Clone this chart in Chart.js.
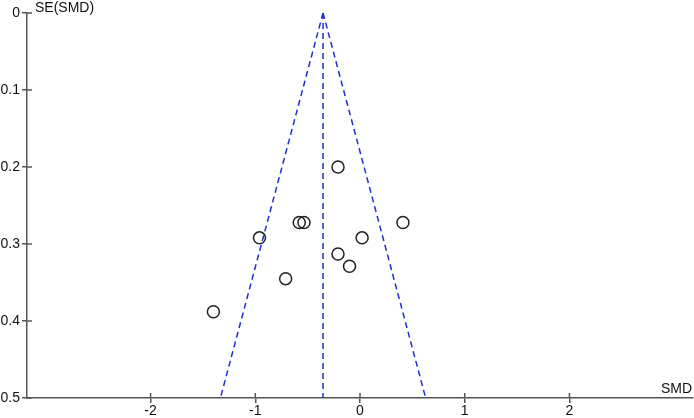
<!DOCTYPE html>
<html>
<head>
<meta charset="utf-8">
<script src="https://cdn.jsdelivr.net/npm/chart.js@4/dist/chart.umd.min.js"></script>
<style>
  body { margin: 0; background: #fff; }
  #wrap { width: 694px; height: 418px; }
</style>
</head>
<body>
<div id="wrap"><canvas id="funnel"></canvas></div>
<script>
// study effect sizes and their standard errors
const smd = [-0.21, -0.58, -0.535, 0.41, -0.96, 0.02, -0.21, -0.10, -0.71, -1.40];
const se = [0.20, 0.272, 0.272, 0.272, 0.292, 0.292, 0.313, 0.329, 0.345, 0.388];
const pooledSMD = -0.353;
const funnelSE = [0, 0.5];
const xTicks = [-2, -1, 0, 1, 2];
const yTicks = [0, 0.1, 0.2, 0.3, 0.4, 0.5];

const axisColor = '#555';
const lineBlue = '#1f2fd0';
const fontFamily = '"Liberation Sans", Arial, sans-serif';

const points = smd.map((v, i) => ({ x: v, y: se[i] }));
const leftLine = funnelSE.map(s => ({ x: pooledSMD - 1.96 * s, y: s }));
const rightLine = funnelSE.map(s => ({ x: pooledSMD + 1.96 * s, y: s }));
const midLine = funnelSE.map(s => ({ x: pooledSMD, y: s }));

function dashed(data) {
  return {
    type: 'line', data: data, borderColor: lineBlue, borderWidth: 1.5,
    borderDash: [6, 4], pointRadius: 0, fill: false
  };
}

// ticks crossing the axis line, and the two axis titles
const extras = {
  id: 'extras',
  afterDraw(chart) {
    const ctx = chart.ctx;
    const xs = chart.scales.x, ys = chart.scales.y;
    const area = chart.chartArea;
    ctx.save();
    ctx.strokeStyle = axisColor;
    ctx.lineWidth = 1.5;
    ctx.beginPath();
    xTicks.forEach(t => {
      const px = xs.getPixelForValue(t);
      ctx.moveTo(px, area.bottom);
      ctx.lineTo(px, area.bottom - 5);
    });
    yTicks.forEach(t => {
      const py = ys.getPixelForValue(t);
      ctx.moveTo(area.left, py);
      ctx.lineTo(area.left + 5, py);
    });
    ctx.stroke();
    ctx.fillStyle = '#111';
    ctx.font = '14px ' + fontFamily;
    ctx.textBaseline = 'middle';
    ctx.textAlign = 'left';
    ctx.fillText('SE(SMD)', area.left + 8, area.top - 5);
    ctx.textAlign = 'right';
    ctx.fillText('SMD', area.right - 1, area.bottom - 9);
    ctx.restore();
  }
};

new Chart(document.getElementById('funnel'), {
  type: 'scatter',
  data: {
    datasets: [
      dashed(leftLine),
      dashed(rightLine),
      dashed(midLine),
      {
        data: points,
        pointStyle: 'circle',
        pointRadius: 6,
        pointBorderWidth: 1.5,
        pointBorderColor: '#222',
        pointBackgroundColor: 'rgba(0,0,0,0)'
      }
    ]
  },
  options: {
    responsive: true,
    maintainAspectRatio: false,
    animation: false,
    layout: { autoPadding: false, padding: { top: 13, right: 1, left: 0, bottom: 0 } },
    plugins: { legend: { display: false }, tooltip: { enabled: false } },
    scales: {
      x: {
        type: 'linear', min: -3.18, max: 3.18,
        afterBuildTicks: axis => { axis.ticks = xTicks.map(v => ({ value: v })); },
        afterFit: axis => { axis.height = 20; },
        border: { color: axisColor, width: 1.5 },
        grid: { drawOnChartArea: false, color: axisColor, lineWidth: 1.5, tickLength: 5 },
        ticks: { color: '#111', padding: 0, font: { family: fontFamily, size: 14 } }
      },
      y: {
        type: 'linear', min: 0, max: 0.5, reverse: true,
        afterBuildTicks: axis => { axis.ticks = yTicks.map(v => ({ value: v })); },
        afterFit: axis => { axis.width = 27; },
        border: { color: axisColor, width: 1.5 },
        grid: { drawOnChartArea: false, color: axisColor, lineWidth: 1.5, tickLength: 5 },
        ticks: { color: '#111', padding: 2, font: { family: fontFamily, size: 14 } }
      }
    }
  },
  plugins: [extras]
});
</script>
</body>
</html>
